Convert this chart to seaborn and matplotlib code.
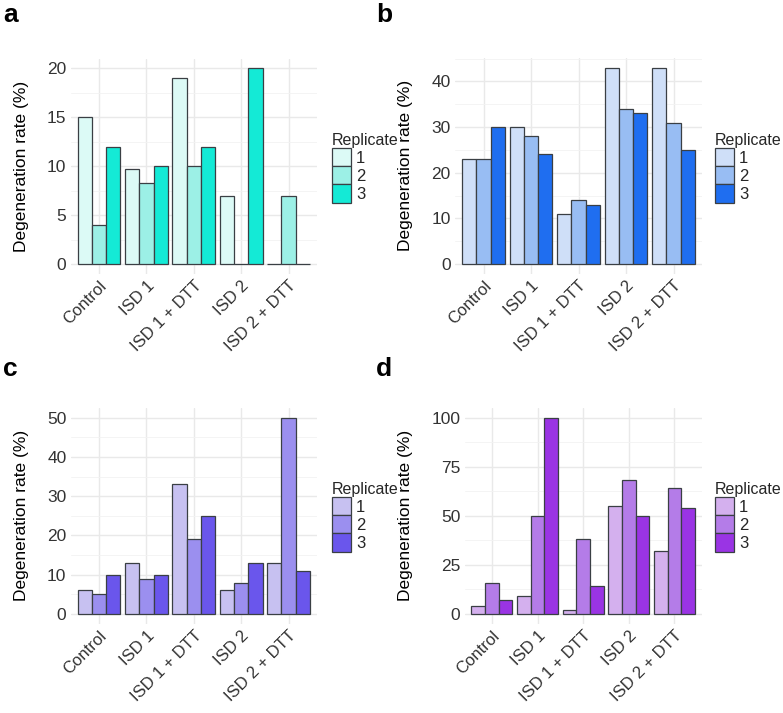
import numpy as np
import pandas as pd
import matplotlib
matplotlib.use("Agg")
import matplotlib.pyplot as plt
from matplotlib.ticker import MultipleLocator, FixedLocator
from matplotlib.patches import Patch
import seaborn as sns

# ---- data ----
categories = ["Control", "ISD 1", "ISD 1 + DTT", "ISD 2", "ISD 2 + DTT"]
replicates = ["1", "2", "3"]

a_rep1 = [15, 9.7, 19, 7, 0]
a_rep2 = [4, 8.3, 10, 0, 7]
a_rep3 = [12, 10, 12, 20, 0]

b_rep1 = [23, 30, 11, 43, 43]
b_rep2 = [23, 28, 14, 34, 31]
b_rep3 = [30, 24, 13, 33, 25]

c_rep1 = [6, 13, 33, 6, 13]
c_rep2 = [5, 9, 19, 8, 50]
c_rep3 = [10, 10, 25, 13, 11]

d_rep1 = [4, 9, 2, 55, 32]
d_rep2 = [16, 50, 38, 68, 64]
d_rep3 = [7, 100, 14, 50, 54]

a_colors = ["#dcfaf6", "#9cf0e6", "#14ead6"]
b_colors = ["#cfdff8", "#98bdf3", "#1f6ef0"]
c_colors = ["#c7c1f1", "#9b8fef", "#6a56ec"]
d_colors = ["#d4b0ee", "#b47ce8", "#9a34e4"]

a_ticks = [0, 5, 10, 15, 20]
b_ticks = [0, 10, 20, 30, 40]
c_ticks = [0, 10, 20, 30, 40, 50]
d_ticks = [0, 25, 50, 75, 100]


def long_df(r1, r2, r3):
    rows = []
    for rep, vals in zip(replicates, (r1, r2, r3)):
        for cat, v in zip(categories, vals):
            rows.append({"Condition": cat, "Replicate": rep, "Rate": v})
    return pd.DataFrame(rows)


sns.set_theme(style="white")
plt.rcParams["font.family"] = ["Liberation Sans", "DejaVu Sans"]

W, H = 783, 713
fig = plt.figure(figsize=(W / 100, H / 100), dpi=100)


def px_axes(l, t, r, b):
    return fig.add_axes([l / W, 1 - b / H, (r - l) / W, (b - t) / H])


panels = [
    ("a", (70.6, 58.6, 317, 274), (a_rep1, a_rep2, a_rep3), a_colors, a_ticks, 2.5, (332, 133), (3, 3)),
    ("b", (455, 58, 702, 273.8), (b_rep1, b_rep2, b_rep3), b_colors, b_ticks, 5, (715, 133), (376, 3)),
    ("c", (70.6, 407.8, 317, 623.8), (c_rep1, c_rep2, c_rep3), c_colors, c_ticks, 5, (332, 482), (3, 357)),
    ("d", (464.6, 407.8, 701.7, 623.8), (d_rep1, d_rep2, d_rep3), d_colors, d_ticks, 12.5, (715, 482), (376, 357)),
]

for letter, box, reps, cols, ticks, minor, legpos, letpos in panels:
    ax = px_axes(*box)
    df = long_df(*reps)
    sns.barplot(data=df, x="Condition", y="Rate", hue="Replicate", order=categories,
                hue_order=replicates, palette=cols, saturation=1, width=0.9, gap=0,
                edgecolor="#3a3f44", linewidth=0.9, ax=ax, legend=False, zorder=3)
    ymax = ticks[-1]
    vmax = max(max(r) for r in reps)
    top = max(vmax, ymax)
    pad = 0.05 * top
    ax.set_ylim(-pad, top + pad)
    ax.set_xlim(-0.6, 4.6)
    ax.yaxis.set_major_locator(FixedLocator(ticks))
    ax.yaxis.set_minor_locator(MultipleLocator(minor))
    ax.grid(True, which="major", axis="both", color="#e9e9e9", linewidth=1.0, zorder=0)
    ax.grid(True, which="minor", axis="y", color="#f2f2f2", linewidth=0.6, zorder=0)
    ax.set_axisbelow(True)
    for s in ax.spines.values():
        s.set_visible(False)
    ax.tick_params(axis="both", which="both", length=0, labelsize=12.5, colors="#333333", pad=3)
    ax.set_xticks(range(len(categories)))
    ax.set_xticklabels(categories, rotation=45, ha="right", va="top",
                       rotation_mode="anchor", fontsize=12, color="#333333")
    ax.set_xlabel("")
    ax.set_ylabel("Degeneration rate (%)", fontsize=12.5, color="black", labelpad=13)

    handles = [Patch(facecolor=c, edgecolor="#3a3f44", linewidth=0.9) for c in cols]
    fig.legend(handles, replicates, title="Replicate", frameon=False,
               loc="upper left", bbox_to_anchor=(legpos[0] / W, 1 - legpos[1] / H),
               bbox_transform=fig.transFigure, labelspacing=0.0,
               handlelength=1.15, handleheight=1.3, handletextpad=0.3,
               borderpad=0, borderaxespad=0, fontsize=12, title_fontsize=11.5,
               alignment="left")
    fig.text(letpos[0] / W, 1 - letpos[1] / H, letter, fontsize=19, fontweight="bold",
             ha="left", va="top", color="black")

fig.savefig("out.png", dpi=100)
